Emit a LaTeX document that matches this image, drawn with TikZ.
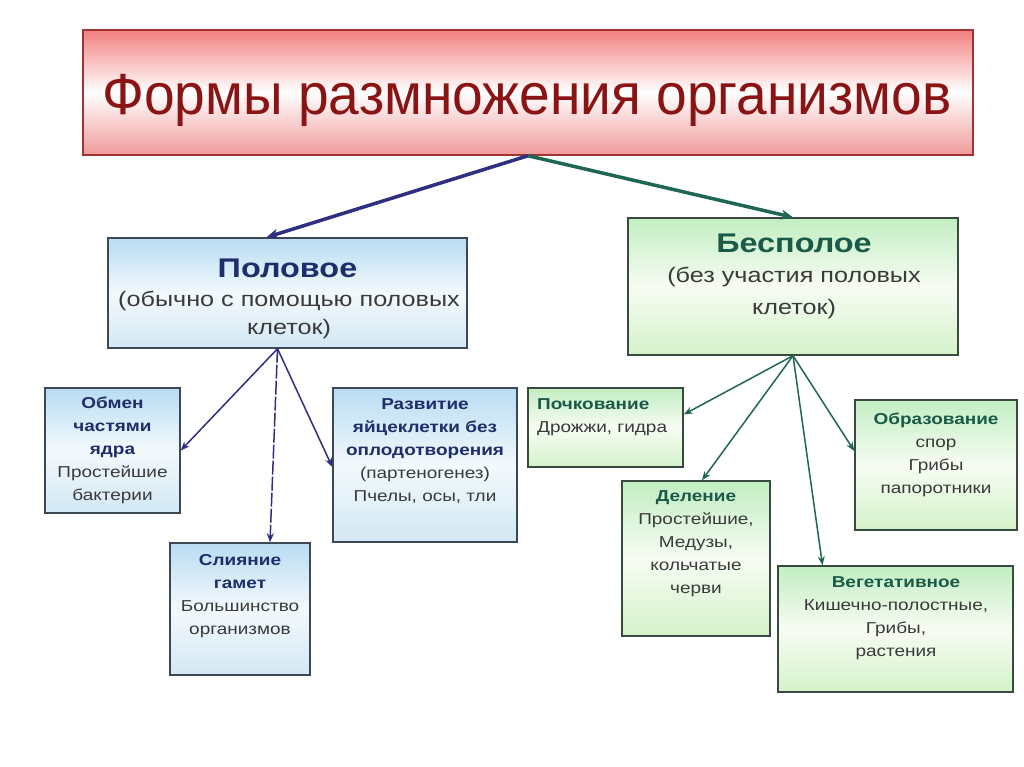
\documentclass[tikz,border=0pt]{standalone}
\usepackage{fontspec}
\setmainfont{Liberation Sans}
\newfontfamily\wfont[FakeStretch=1.2]{Liberation Sans}
\newfontfamily\tfont[FakeStretch=0.95]{Liberation Sans}
\usetikzlibrary{arrows.meta,fit,calc}
\definecolor{tred}{HTML}{F28080}
\definecolor{tredb}{HTML}{F09A9A}
\definecolor{tredtext}{HTML}{8A1414}
\definecolor{tredborder}{HTML}{A03434}
\definecolor{bluetop}{HTML}{B8DCF2}
\definecolor{bluemid}{HTML}{F3F9FC}
\definecolor{bluebot}{HTML}{D2E8F4}
\definecolor{greentop}{HTML}{C2EEC2}
\definecolor{greenmid}{HTML}{F7FCF3}
\definecolor{greenbot}{HTML}{D4F2CA}
\definecolor{navytext}{HTML}{1F2D6A}
\definecolor{greentext}{HTML}{1A5A48}
\definecolor{bodytext}{HTML}{3A3A3A}
\definecolor{navyarrow}{HTML}{2E2F80}
\definecolor{greenarrow}{HTML}{1F6655}
\definecolor{bluebord}{HTML}{3C4856}
\definecolor{greenbord}{HTML}{3A4A40}
\begin{document}
\begin{tikzpicture}[x=1pt,y=-1pt,
  titlebox/.style={draw=tredborder,line width=1.5pt,inner sep=0pt,
    top color=tred,bottom color=tredb,middle color=white},
  bluebox/.style={draw=bluebord,line width=1.4pt,inner sep=0pt,
    top color=bluetop,bottom color=bluebot,middle color=bluemid},
  greenbox/.style={draw=greenbord,line width=1.4pt,inner sep=0pt,
    top color=greentop,bottom color=greenbot,middle color=greenmid},
  titletext/.style={text=tredtext,font=\tfont\fontsize{58}{62}\selectfont,inner sep=0pt},
  bighead/.style={text=#1,font=\wfont\bfseries\fontsize{27}{30}\selectfont,inner sep=0pt},
  subtext/.style={text=bodytext,align=center,inner sep=0pt,font=\wfont\fontsize{21}{#1}\selectfont},
  body/.style={text=bodytext,align=center,inner sep=0pt,font=\wfont\fontsize{15.8}{23}\selectfont},
  mainarrowA/.style={draw=navyarrow,line width=3.5pt,-{Stealth[length=12pt,width=10pt]}},
  mainarrowB/.style={draw=greenarrow,line width=3.5pt,-{Stealth[length=12pt,width=10pt]}},
  subarrowA/.style={draw=navyarrow,line width=1.5pt,-{Stealth[length=9pt,width=7pt]}},
  subarrowB/.style={draw=greenarrow,line width=1.5pt,-{Stealth[length=9pt,width=7pt]}}
]
\useasboundingbox[fill=white] (0,0) rectangle (1024,767);

% boxes
\node[titlebox,fit={(83,30)(973,155)}] (title) {};
\node[bluebox,fit={(108,238)(467,348)}] (sex) {};
\node[greenbox,fit={(628,218)(958,355)}] (asex) {};
\node[bluebox,fit={(45,388)(180,513)}] (obmen) {};
\node[bluebox,fit={(170,543)(310,675)}] (sliyanie) {};
\node[bluebox,fit={(333,388)(517,542)}] (razvitie) {};
\node[greenbox,fit={(528,388)(683,467)}] (pochk) {};
\node[greenbox,fit={(622,481)(770,636)}] (delenie) {};
\node[greenbox,fit={(778,566)(1013,692)}] (veget) {};
\node[greenbox,fit={(855,400)(1017,530)}] (obraz) {};

% texts
\node[titletext,anchor=base] (titlet) at (527,115) {Формы размножения организмов};
\node[bighead=navytext] (sexh) at (287.5,268) {Половое};
\node[subtext=28] (sexs) at (289,315) {(обычно с помощью половых\\клеток)};
\node[bighead=greentext] (asexh) at (794,243) {Бесполое};
\node[subtext=32] (asexs) at (794,293) {(без участия половых\\клеток)};

\node[body] (obment) at (112.5,450) {\textcolor{navytext}{\bfseries Обмен}\\\textcolor{navytext}{\bfseries частями}\\\textcolor{navytext}{\bfseries ядра}\\Простейшие\\бактерии};
\node[body] (sliyaniet) at (240,596) {\textcolor{navytext}{\bfseries Слияние}\\\textcolor{navytext}{\bfseries гамет}\\Большинство\\организмов};
\node[body] (razvitiet) at (425,451) {\textcolor{navytext}{\bfseries Развитие}\\\textcolor{navytext}{\bfseries яйцеклетки без}\\\textcolor{navytext}{\bfseries оплодотворения}\\(партеногенез)\\Пчелы, осы, тли};
\node[body,align=left,anchor=west] (pochkt) at (537,417) {\textcolor{greentext}{\bfseries Почкование}\\Дрожжи, гидра};
\node[body] (deleniet) at (696,544) {\textcolor{greentext}{\bfseries Деление}\\Простейшие,\\Медузы,\\кольчатые\\черви};
\node[body] (vegett) at (896,618) {\textcolor{greentext}{\bfseries Вегетативное}\\Кишечно-полостные,\\Грибы,\\растения};
\node[body] (obrazt) at (936,455) {\textcolor{greentext}{\bfseries Образование}\\спор\\Грибы\\папоротники};

% connectors
\draw[mainarrowA] (title.south) -- ($(sex.north)+(-21,0)$);
\draw[mainarrowB] (title.south) -- (asex.north);

\coordinate (sexo) at ($(sex.south)+(-10,0)$);
\draw[subarrowA] (sexo) -- (obmen.east);
\draw[subarrowA,dash pattern=on 14pt off 2pt] (sexo) -- ($(sliyanie.north)+(30,0)$);
\draw[subarrowA] (sexo) -- ($(razvitie.west)+(0,2)$);

\draw[subarrowB] (asex.south) -- ($(pochk.east)+(0,-13)$);
\draw[subarrowB] (asex.south) -- ($(delenie.north)+(6,0)$);
\draw[subarrowB] (asex.south) -- ($(veget.north)+(-73,0)$);
\draw[subarrowB] (asex.south) -- ($(obraz.west)+(0,-14)$);
\end{tikzpicture}
\end{document}
